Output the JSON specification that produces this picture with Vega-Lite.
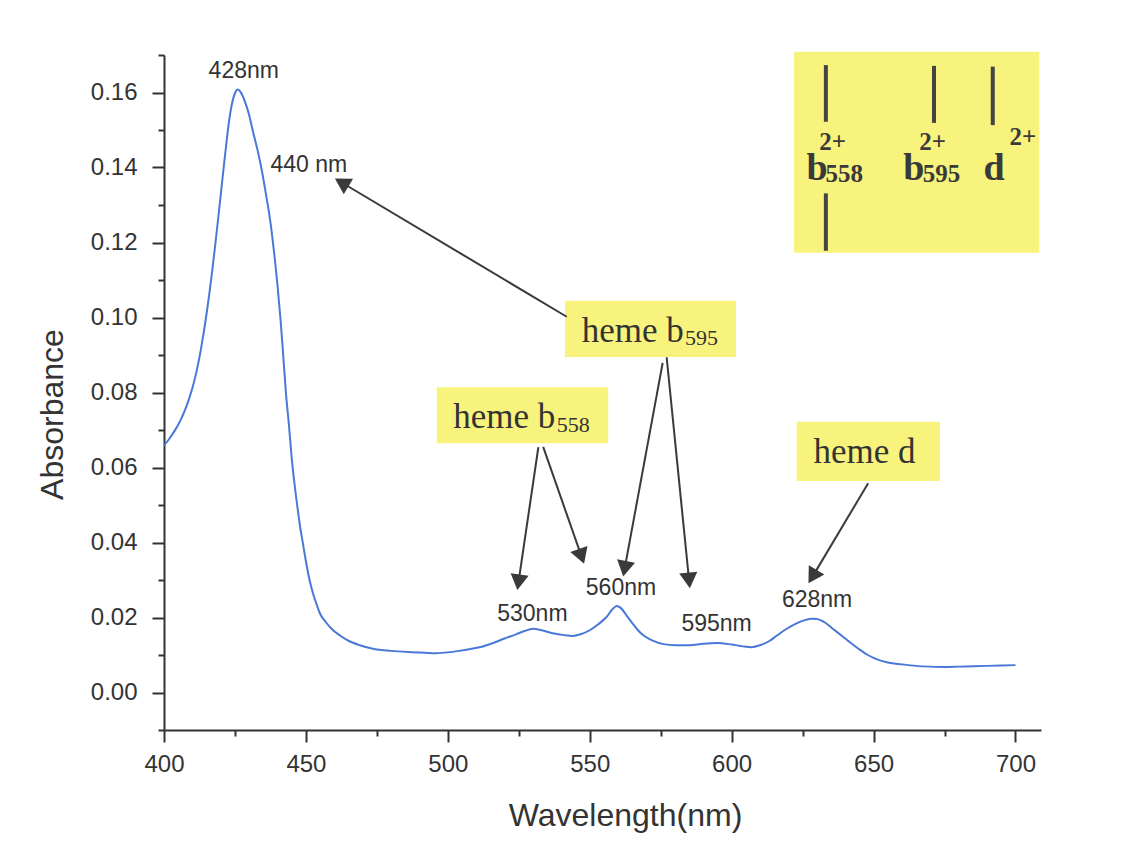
{
  "$schema": "https://vega.github.io/schema/vega-lite/v6.json",
  "width": 877,
  "height": 675,
  "autosize": "none",
  "padding": {"left": 164, "top": 55, "right": 84, "bottom": 116},
  "background": "white",
  "config": {
    "view": {"stroke": null},
    "axis": {
      "grid": false,
      "domainColor": "#333333",
      "domainWidth": 2,
      "tickColor": "#333333",
      "tickWidth": 2,
      "labelFont": "Liberation Sans",
      "labelFontSize": 24,
      "labelColor": "#333333",
      "labelOverlap": false,
      "labelFlush": false,
      "labelBound": false,
      "titleFont": "Liberation Sans",
      "titleFontSize": 32,
      "titleFontWeight": "normal",
      "titleColor": "#333333"
    }
  },
  "resolve": {"axis": {"x": "independent", "y": "independent"}},
  "datasets": {
    "spectrum": [
      {"nm": 400, "abs": 0.0659}, {"nm": 401, "abs": 0.0668}, {"nm": 402, "abs": 0.0678}, {"nm": 403, "abs": 0.0689},
      {"nm": 404, "abs": 0.0701}, {"nm": 405, "abs": 0.0714}, {"nm": 406, "abs": 0.0729}, {"nm": 407, "abs": 0.0746},
      {"nm": 408, "abs": 0.0765}, {"nm": 409, "abs": 0.0787}, {"nm": 410, "abs": 0.0812}, {"nm": 411, "abs": 0.0841},
      {"nm": 412, "abs": 0.0875}, {"nm": 413, "abs": 0.0915}, {"nm": 414, "abs": 0.0960}, {"nm": 415, "abs": 0.1010},
      {"nm": 416, "abs": 0.1065}, {"nm": 417, "abs": 0.1125}, {"nm": 418, "abs": 0.1190}, {"nm": 419, "abs": 0.1258},
      {"nm": 420, "abs": 0.1328}, {"nm": 421, "abs": 0.1398}, {"nm": 422, "abs": 0.1466}, {"nm": 423, "abs": 0.1528},
      {"nm": 424, "abs": 0.1572}, {"nm": 425, "abs": 0.1598}, {"nm": 426, "abs": 0.1608}, {"nm": 427, "abs": 0.1601},
      {"nm": 428, "abs": 0.1586}, {"nm": 429, "abs": 0.1565}, {"nm": 430, "abs": 0.1540}, {"nm": 431, "abs": 0.1507},
      {"nm": 432, "abs": 0.1476}, {"nm": 433, "abs": 0.1445}, {"nm": 434, "abs": 0.1410}, {"nm": 435, "abs": 0.1370},
      {"nm": 436, "abs": 0.1325}, {"nm": 437, "abs": 0.1280}, {"nm": 438, "abs": 0.1225}, {"nm": 439, "abs": 0.1160},
      {"nm": 440, "abs": 0.1085}, {"nm": 441, "abs": 0.1000}, {"nm": 442, "abs": 0.0900}, {"nm": 443, "abs": 0.0795},
      {"nm": 444, "abs": 0.0715}, {"nm": 445, "abs": 0.0625}, {"nm": 446, "abs": 0.0555}, {"nm": 447, "abs": 0.0495},
      {"nm": 448, "abs": 0.0440}, {"nm": 449, "abs": 0.0395}, {"nm": 450, "abs": 0.0350}, {"nm": 451, "abs": 0.0310},
      {"nm": 452, "abs": 0.0278}, {"nm": 453, "abs": 0.0252}, {"nm": 454, "abs": 0.0230}, {"nm": 455, "abs": 0.0210},
      {"nm": 457, "abs": 0.0188}, {"nm": 459, "abs": 0.0170}, {"nm": 462, "abs": 0.0152}, {"nm": 465, "abs": 0.0138},
      {"nm": 469, "abs": 0.0126}, {"nm": 474, "abs": 0.0116}, {"nm": 480, "abs": 0.0111}, {"nm": 486, "abs": 0.0108},
      {"nm": 492, "abs": 0.0106}, {"nm": 496, "abs": 0.0105}, {"nm": 500, "abs": 0.0107}, {"nm": 504, "abs": 0.0111},
      {"nm": 508, "abs": 0.0116}, {"nm": 512, "abs": 0.0122}, {"nm": 516, "abs": 0.0132}, {"nm": 520, "abs": 0.0144},
      {"nm": 524, "abs": 0.0155}, {"nm": 527, "abs": 0.0164}, {"nm": 530, "abs": 0.0170}, {"nm": 533, "abs": 0.0166},
      {"nm": 537, "abs": 0.0158}, {"nm": 541, "abs": 0.0153}, {"nm": 544, "abs": 0.0151}, {"nm": 547, "abs": 0.0156},
      {"nm": 550, "abs": 0.0166}, {"nm": 553, "abs": 0.0182}, {"nm": 556, "abs": 0.0202}, {"nm": 558, "abs": 0.0222},
      {"nm": 559.5, "abs": 0.0231}, {"nm": 561, "abs": 0.0225}, {"nm": 563, "abs": 0.0205}, {"nm": 565, "abs": 0.0185},
      {"nm": 567, "abs": 0.0166}, {"nm": 569, "abs": 0.0152}, {"nm": 572, "abs": 0.0139}, {"nm": 576, "abs": 0.0129},
      {"nm": 580, "abs": 0.0126}, {"nm": 585, "abs": 0.0126}, {"nm": 590, "abs": 0.0130}, {"nm": 595, "abs": 0.0132},
      {"nm": 600, "abs": 0.0128}, {"nm": 604, "abs": 0.0123}, {"nm": 607, "abs": 0.0121}, {"nm": 610, "abs": 0.0126},
      {"nm": 613, "abs": 0.0136}, {"nm": 616, "abs": 0.0152}, {"nm": 619, "abs": 0.0168}, {"nm": 622, "abs": 0.0181},
      {"nm": 625, "abs": 0.0191}, {"nm": 628, "abs": 0.0197}, {"nm": 630, "abs": 0.0196}, {"nm": 633, "abs": 0.0186},
      {"nm": 636, "abs": 0.0168}, {"nm": 639, "abs": 0.0150}, {"nm": 642, "abs": 0.0132}, {"nm": 645, "abs": 0.0115},
      {"nm": 648, "abs": 0.0100}, {"nm": 651, "abs": 0.0089}, {"nm": 655, "abs": 0.0080}, {"nm": 660, "abs": 0.0075},
      {"nm": 665, "abs": 0.0071}, {"nm": 670, "abs": 0.0069}, {"nm": 675, "abs": 0.0068}, {"nm": 680, "abs": 0.0069},
      {"nm": 685, "abs": 0.0070}, {"nm": 690, "abs": 0.0071}, {"nm": 695, "abs": 0.0072}, {"nm": 700, "abs": 0.0073}
    ],
    "boxes": [
      {"x": 541.3, "x2": 601.5, "y": 0.1045, "y2": 0.0895},
      {"x": 496.1, "x2": 556.5, "y": 0.0814, "y2": 0.0665},
      {"x": 622.9, "x2": 673.4, "y": 0.0722, "y2": 0.0564},
      {"x": 622.0, "x2": 708.4, "y": 0.1709, "y2": 0.1173}
    ],
    "arrows": [
      {"x": 541.9, "y": 0.1002, "x2": 462.6, "y2": 0.1360, "heading": 300.9},
      {"x": 531.9, "y": 0.0654, "x2": 524.9, "y2": 0.0294, "heading": 188.4},
      {"x": 533.6, "y": 0.0655, "x2": 547.1, "y2": 0.0363, "heading": 160.9},
      {"x": 575.7, "y": 0.0879, "x2": 562.3, "y2": 0.0330, "heading": 190.4},
      {"x": 577.1, "y": 0.0894, "x2": 585.0, "y2": 0.0299, "heading": 174.2},
      {"x": 648.1, "y": 0.0558, "x2": 628.5, "y2": 0.0309, "heading": 211.0}
    ],
    "bars": [
      {"x": 633.2, "y": 0.1673, "y2": 0.1522},
      {"x": 633.2, "y": 0.1331, "y2": 0.1178},
      {"x": 671.3, "y": 0.1671, "y2": 0.1519},
      {"x": 692.0, "y": 0.1669, "y2": 0.1513}
    ],
    "peaklabels": [
      {"x": 428.1, "y": 0.1638, "text": "428nm"},
      {"x": 451.0, "y": 0.1389, "text": "440 nm"},
      {"x": 529.8, "y": 0.0191, "text": "530nm"},
      {"x": 561.0, "y": 0.0260, "text": "560nm"},
      {"x": 594.7, "y": 0.0164, "text": "595nm"},
      {"x": 630.1, "y": 0.0229, "text": "628nm"}
    ],
    "hemetext": [
      {"x": 547.2, "y": 0.0935, "text": "heme b"},
      {"x": 501.9, "y": 0.0705, "text": "heme b"},
      {"x": 628.8, "y": 0.0613, "text": "heme d"}
    ],
    "hemesub": [
      {"x": 583.6, "y": 0.0927, "text": "595"},
      {"x": 538.4, "y": 0.0695, "text": "558"}
    ],
    "boxbig": [
      {"x": 626.4, "y": 0.1367, "text": "b"},
      {"x": 660.5, "y": 0.1367, "text": "b"},
      {"x": 688.7, "y": 0.1367, "text": "d"}
    ],
    "boxsmall": [
      {"x": 633.1, "y": 0.1361, "text": "558"},
      {"x": 667.3, "y": 0.1361, "text": "595"},
      {"x": 630.9, "y": 0.1447, "text": "2+"},
      {"x": 666.1, "y": 0.1447, "text": "2+"},
      {"x": 697.9, "y": 0.1460, "text": "2+"}
    ]
  },
  "layer": [
    {
      "data": {"name": "spectrum"},
      "mark": {"type": "line", "color": "#4a78d8", "strokeWidth": 2, "interpolate": "monotone"},
      "encoding": {
        "x": {
          "field": "nm", "type": "quantitative",
          "scale": {"domain": [400, 709], "nice": false, "zero": false},
          "axis": {
            "orient": "bottom",
            "title": "Wavelength(nm)",
            "values": [400, 450, 500, 550, 600, 650, 700],
            "tickSize": 12,
            "labelPadding": 10,
            "titleX": 461,
            "titleY": 95,
            "titleBaseline": "alphabetic",
            "titleAlign": "center"
          }
        },
        "y": {
          "field": "abs", "type": "quantitative",
          "scale": {"domain": [-0.01, 0.17], "nice": false, "zero": false},
          "axis": {
            "orient": "left",
            "title": "Absorbance",
            "values": [0, 0.02, 0.04, 0.06, 0.08, 0.1, 0.12, 0.14, 0.16],
            "format": ".2f",
            "tickSize": 12,
            "labelPadding": 15,
            "titleX": -102,
            "titleY": 359,
            "titleAngle": 270,
            "titleBaseline": "alphabetic",
            "titleAlign": "center"
          }
        }
      }
    },
    {
      "data": {"name": "spectrum"},
      "mark": {"type": "point", "opacity": 0},
      "encoding": {
        "x": {
          "field": "nm", "type": "quantitative",
          "scale": {"domain": [400, 709], "nice": false, "zero": false},
          "axis": {"orient": "bottom", "title": null, "values": [425, 475, 525, 575, 625, 675], "labels": false, "domain": false, "tickSize": 6}
        },
        "y": {
          "field": "abs", "type": "quantitative",
          "scale": {"domain": [-0.01, 0.17], "nice": false, "zero": false},
          "axis": {"orient": "left", "title": null, "values": [-0.01, 0.01, 0.03, 0.05, 0.07, 0.09, 0.11, 0.13, 0.15, 0.17], "labels": false, "domain": false, "tickSize": 6}
        }
      }
    },
    {
      "data": {"name": "boxes"},
      "mark": {"type": "rect", "fill": "#f8f37c", "stroke": null},
      "encoding": {
        "x": {"field": "x", "type": "quantitative", "scale": {"domain": [400, 709], "nice": false, "zero": false}, "axis": null},
        "x2": {"field": "x2"},
        "y": {"field": "y", "type": "quantitative", "scale": {"domain": [-0.01, 0.17], "nice": false, "zero": false}, "axis": null},
        "y2": {"field": "y2"}
      }
    },
    {
      "data": {"name": "arrows"},
      "mark": {"type": "rule", "color": "#3a3a3a", "strokeWidth": 2},
      "encoding": {
        "x": {"field": "x", "type": "quantitative", "scale": {"domain": [400, 709], "nice": false, "zero": false}, "axis": null},
        "x2": {"field": "x2"},
        "y": {"field": "y", "type": "quantitative", "scale": {"domain": [-0.01, 0.17], "nice": false, "zero": false}, "axis": null},
        "y2": {"field": "y2"}
      }
    },
    {
      "data": {"name": "arrows"},
      "mark": {"type": "point", "shape": "triangle-up", "filled": true, "size": 330, "color": "#3a3a3a", "opacity": 1},
      "encoding": {
        "x": {"field": "x2", "type": "quantitative", "scale": {"domain": [400, 709], "nice": false, "zero": false}, "axis": null},
        "y": {"field": "y2", "type": "quantitative", "scale": {"domain": [-0.01, 0.17], "nice": false, "zero": false}, "axis": null},
        "angle": {"field": "heading", "type": "quantitative", "scale": null}
      }
    },
    {
      "data": {"name": "bars"},
      "mark": {"type": "rule", "color": "#444444", "strokeWidth": 4},
      "encoding": {
        "x": {"field": "x", "type": "quantitative", "scale": {"domain": [400, 709], "nice": false, "zero": false}, "axis": null},
        "y": {"field": "y", "type": "quantitative", "scale": {"domain": [-0.01, 0.17], "nice": false, "zero": false}, "axis": null},
        "y2": {"field": "y2"}
      }
    },
    {
      "data": {"name": "peaklabels"},
      "mark": {"type": "text", "font": "Liberation Sans", "fontSize": 23, "color": "#333333", "align": "center", "baseline": "alphabetic"},
      "encoding": {
        "x": {"field": "x", "type": "quantitative", "scale": {"domain": [400, 709], "nice": false, "zero": false}, "axis": null},
        "y": {"field": "y", "type": "quantitative", "scale": {"domain": [-0.01, 0.17], "nice": false, "zero": false}, "axis": null},
        "text": {"field": "text"}
      }
    },
    {
      "data": {"name": "hemetext"},
      "mark": {"type": "text", "font": "Liberation Serif", "fontSize": 35, "color": "#333333", "align": "left", "baseline": "alphabetic"},
      "encoding": {
        "x": {"field": "x", "type": "quantitative", "scale": {"domain": [400, 709], "nice": false, "zero": false}, "axis": null},
        "y": {"field": "y", "type": "quantitative", "scale": {"domain": [-0.01, 0.17], "nice": false, "zero": false}, "axis": null},
        "text": {"field": "text"}
      }
    },
    {
      "data": {"name": "hemesub"},
      "mark": {"type": "text", "font": "Liberation Serif", "fontSize": 22, "color": "#333333", "align": "left", "baseline": "alphabetic"},
      "encoding": {
        "x": {"field": "x", "type": "quantitative", "scale": {"domain": [400, 709], "nice": false, "zero": false}, "axis": null},
        "y": {"field": "y", "type": "quantitative", "scale": {"domain": [-0.01, 0.17], "nice": false, "zero": false}, "axis": null},
        "text": {"field": "text"}
      }
    },
    {
      "data": {"name": "boxbig"},
      "mark": {"type": "text", "font": "Liberation Serif", "fontSize": 38, "fontWeight": "bold", "color": "#3a3a3a", "align": "left", "baseline": "alphabetic"},
      "encoding": {
        "x": {"field": "x", "type": "quantitative", "scale": {"domain": [400, 709], "nice": false, "zero": false}, "axis": null},
        "y": {"field": "y", "type": "quantitative", "scale": {"domain": [-0.01, 0.17], "nice": false, "zero": false}, "axis": null},
        "text": {"field": "text"}
      }
    },
    {
      "data": {"name": "boxsmall"},
      "mark": {"type": "text", "font": "Liberation Serif", "fontSize": 25, "fontWeight": "bold", "color": "#3a3a3a", "align": "left", "baseline": "alphabetic"},
      "encoding": {
        "x": {"field": "x", "type": "quantitative", "scale": {"domain": [400, 709], "nice": false, "zero": false}, "axis": null},
        "y": {"field": "y", "type": "quantitative", "scale": {"domain": [-0.01, 0.17], "nice": false, "zero": false}, "axis": null},
        "text": {"field": "text"}
      }
    }
  ]
}
